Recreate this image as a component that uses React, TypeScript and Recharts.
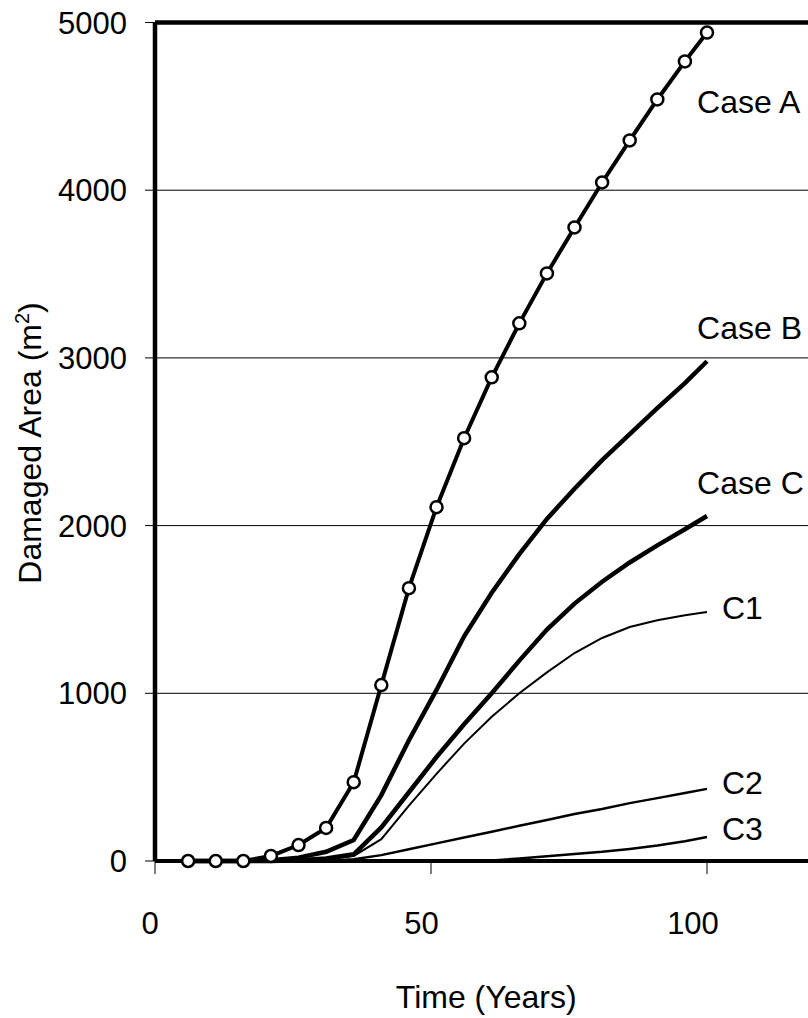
import React from 'react';
import { LineChart, Line, XAxis, YAxis, CartesianGrid, ReferenceLine, ReferenceDot } from 'recharts';

const years = [6, 11, 16, 21, 26, 31, 36, 41, 46, 51, 56, 61, 66, 71, 76, 81, 86, 91, 96, 100];
const caseA = [0, 0, 0, 30, 95, 197, 470, 1049, 1627, 2110, 2521, 2884, 3206, 3504, 3778, 4046, 4297, 4541, 4768, 4940];
const caseB = [0, 0, 0, 5, 20, 55, 125, 393, 720, 1020, 1340, 1600, 1830, 2040, 2220, 2390, 2545, 2700, 2850, 2980];
const caseC = [0, 0, 0, 0, 5, 15, 40, 200, 410, 620, 815, 1000, 1195, 1380, 1535, 1665, 1780, 1882, 1978, 2057];
const c1 = [0, 0, 0, 0, 3, 10, 30, 130, 330, 520, 700, 860, 1000, 1125, 1240, 1330, 1395, 1435, 1465, 1485];
const c2 = [0, 0, 0, 0, 0, 2, 10, 35, 70, 105, 140, 175, 210, 245, 280, 310, 345, 375, 405, 430];
const c3 = [0, 0, 0, 0, 0, 0, 0, 0, 0, 0, 0, 3, 15, 28, 42, 55, 72, 92, 118, 143];

const xTicks = [0, 50, 100];
const yTicks = [0, 1000, 2000, 3000, 4000, 5000];

// where each curve's name sits
const seriesLabels = [
  { text: 'Case A', x: 98.2, y: 4530 },
  { text: 'Case B', x: 98.2, y: 3183 },
  { text: 'Case C', x: 98.2, y: 2259 },
  { text: 'C1', x: 102.7, y: 1508 },
  { text: 'C2', x: 102.7, y: 465 },
  { text: 'C3', x: 102.7, y: 191 },
];

const rows = years.map((t, i) => ({
  t,
  a: caseA[i],
  b: caseB[i],
  c: caseC[i],
  c1: c1[i],
  c2: c2[i],
  c3: c3[i],
}));

const FONT = '"Liberation Sans", Arial, sans-serif';

const XTick = (props: any) => {
  const { x, y, payload } = props;
  const dx = -5 - payload.value * 0.09;
  return (
    <text x={x + dx} y={y} dy="0.71em" textAnchor="middle" fontSize={31} fontFamily={FONT} fill="#000">
      {payload.value}
    </text>
  );
};

const XTitle = (props: any) => {
  const { viewBox } = props;
  return (
    <text x={viewBox.x + viewBox.width / 2} y={1008} textAnchor="middle" fontSize={32} fontFamily={FONT} fill="#000">
      Time (Years)
    </text>
  );
};

const YTitle = () => (
  <text
    x={0}
    y={0}
    transform="translate(41, 443) rotate(-90)"
    textAnchor="middle"
    fontSize={32}
    fontFamily={FONT}
    fill="#000"
  >
    Damaged Area (m
    <tspan fontSize={20} dy={-12}>2</tspan>
    <tspan dy={12}>)</tspan>
  </text>
);

export default function App() {
  return (
    <div style={{ position: 'fixed', left: 0, top: 0, width: 808, height: 1018, overflow: 'hidden', background: '#fff' }}>
      <LineChart width={900} height={1018} data={rows} margin={{ top: 22.5, right: 82.6, bottom: 57, left: 0 }}>
        <CartesianGrid vertical={false} stroke="#000" strokeWidth={1} />
        <XAxis
          dataKey="t"
          type="number"
          domain={[0, 120]}
          ticks={xTicks}
          height={100}
          stroke="#000"
          axisLine={{ strokeWidth: 4 }}
          tickLine={{ strokeWidth: 1 }}
          tickSize={13}
          tickMargin={38}
          tick={<XTick />}
          label={<XTitle />}
        />
        <YAxis
          type="number"
          domain={[0, 5000]}
          ticks={yTicks}
          width={155}
          stroke="#000"
          axisLine={{ strokeWidth: 4.5 }}
          tickLine={{ strokeWidth: 1 }}
          tickSize={10}
          tickMargin={18}
          tick={{ fontSize: 31, fill: '#000', fontFamily: FONT }}
          label={<YTitle />}
        />
        <ReferenceLine y={5000} stroke="#000" strokeWidth={4.5} />
        <Line type="linear" dataKey="c3" stroke="#000" strokeWidth={2.5} dot={false} isAnimationActive={false} />
        <Line type="linear" dataKey="c2" stroke="#000" strokeWidth={2.5} dot={false} isAnimationActive={false} />
        <Line type="linear" dataKey="c1" stroke="#000" strokeWidth={2} dot={false} isAnimationActive={false} />
        <Line type="linear" dataKey="c" stroke="#000" strokeWidth={4.5} dot={false} isAnimationActive={false} />
        <Line type="linear" dataKey="b" stroke="#000" strokeWidth={4.5} dot={false} isAnimationActive={false} />
        <Line
          type="linear"
          dataKey="a"
          stroke="#000"
          strokeWidth={4}
          dot={{ r: 6, fill: '#fff', stroke: '#000', strokeWidth: 2.5 }}
          isAnimationActive={false}
        />
        {seriesLabels.map((s) => (
          <ReferenceDot
            key={s.text}
            x={s.x}
            y={s.y}
            r={0}
            stroke="none"
            fill="none"
            label={{ value: s.text, position: 'right', offset: 0, fontSize: 32, fill: '#000', fontFamily: FONT }}
          />
        ))}
      </LineChart>
    </div>
  );
}
